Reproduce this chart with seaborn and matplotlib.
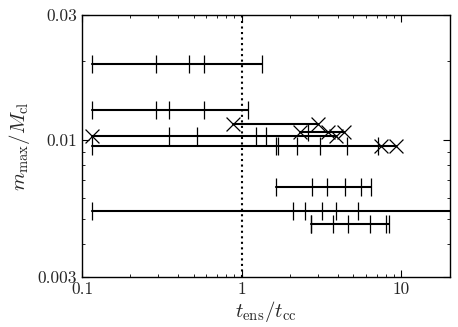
import matplotlib
matplotlib.use('Agg')
import matplotlib.pyplot as plt
import numpy as np
import pandas as pd
import seaborn as sns
from matplotlib.ticker import FixedLocator, FixedFormatter, NullFormatter, LogLocator

# one entry per horizontal bar (log-log axes)
row_y = [0.0195, 0.0130, 0.01146, 0.0107, 0.01034, 0.00946, 0.0066, 0.00534, 0.00476]
row_start = [0.116, 0.116, 0.878, 2.32, 0.116, 0.116, 1.64, 0.116, 2.72]
row_end = [1.34, 1.10, 3.02, 4.39, 3.90, 9.30, 6.41, 25.0, 8.36]
row_ticks = [
    [0.116, 0.292, 0.467, 0.583, 1.34],
    [0.116, 0.292, 0.349, 0.583, 1.10],
    [],
    [2.60],
    [0.349, 0.524, 1.225, 1.415],
    [0.116, 1.64, 1.68, 2.22, 3.09, 4.55, 7.13],
    [1.64, 2.74, 3.42, 4.46, 5.60, 6.41],
    [0.116, 2.10, 2.50, 3.20, 3.90, 5.34],
    [2.70, 2.73, 3.73, 4.63, 6.38, 7.96, 8.36],
]
row_cross = [
    [],
    [],
    [0.878, 3.02],
    [2.32, 3.46, 4.39],
    [0.116, 3.90],
    [7.48, 9.30],
    [],
    [],
    [],
]

sns.set_style('ticks')
plt.rcParams['font.family'] = ['serif']
plt.rcParams['font.serif'] = ['cmr10', 'DejaVu Serif']
plt.rcParams['mathtext.fontset'] = 'cm'
plt.rcParams['axes.unicode_minus'] = False
plt.rcParams['axes.formatter.use_mathtext'] = True

# long tables for seaborn
lines = pd.DataFrame({
    'row': np.repeat(np.arange(len(row_y)), 2),
    'x': np.ravel(list(zip(row_start, row_end))),
    'y': np.repeat(row_y, 2),
})
ticks = pd.DataFrame([(x, y) for y, xs in zip(row_y, row_ticks) for x in xs], columns=['x', 'y'])
cross = pd.DataFrame([(x, y) for y, xs in zip(row_y, row_cross) for x in xs], columns=['x', 'y'])

fig, ax = plt.subplots(figsize=(4.58, 3.27), dpi=100)
fig.subplots_adjust(left=0.179, right=0.9815, top=0.954, bottom=0.1544)

ax.set_xscale('log')
ax.set_yscale('log')

sns.lineplot(data=lines, x='x', y='y', units='row', estimator=None, color='k',
             linewidth=1.5, ax=ax, legend=False)
sns.scatterplot(data=ticks, x='x', y='y', marker='|', s=150, color='k',
                linewidth=0.9, ax=ax, legend=False, zorder=3)
sns.scatterplot(data=cross, x='x', y='y', marker='x', s=100, color='k',
                linewidth=0.9, ax=ax, legend=False, zorder=3)

ax.axvline(1, color='k', linestyle=':', linewidth=1.5)

ax.set_xlim(0.1, 20)
ax.set_ylim(0.003, 0.03)

ax.xaxis.set_major_locator(FixedLocator([0.1, 1, 10]))
ax.xaxis.set_major_formatter(FixedFormatter(['0.1', '1', '10']))
ax.xaxis.set_minor_locator(LogLocator(base=10, subs=np.arange(2, 10)))
ax.xaxis.set_minor_formatter(NullFormatter())
ax.yaxis.set_major_locator(FixedLocator([0.003, 0.01, 0.03]))
ax.yaxis.set_major_formatter(FixedFormatter(['0.003', '0.01', '0.03']))
ax.yaxis.set_minor_locator(LogLocator(base=10, subs=np.arange(2, 10)))
ax.yaxis.set_minor_formatter(NullFormatter())

ax.tick_params(which='both', direction='in', top=True, right=True, labelsize=12.5, color='k')
ax.tick_params(which='major', length=5, width=0.8)
ax.tick_params(which='minor', length=2.5, width=0.6)
for s in ax.spines.values():
    s.set_linewidth(1.0)
    s.set_color('k')

ax.set_xlabel(r'$t_{\rm ens}/t_{\rm cc}$', fontsize=15, labelpad=2)
ax.set_ylabel(r'$m_{\rm max}/M_{\rm cl}$', fontsize=15, labelpad=4)

fig.savefig('out.png', dpi=100)
